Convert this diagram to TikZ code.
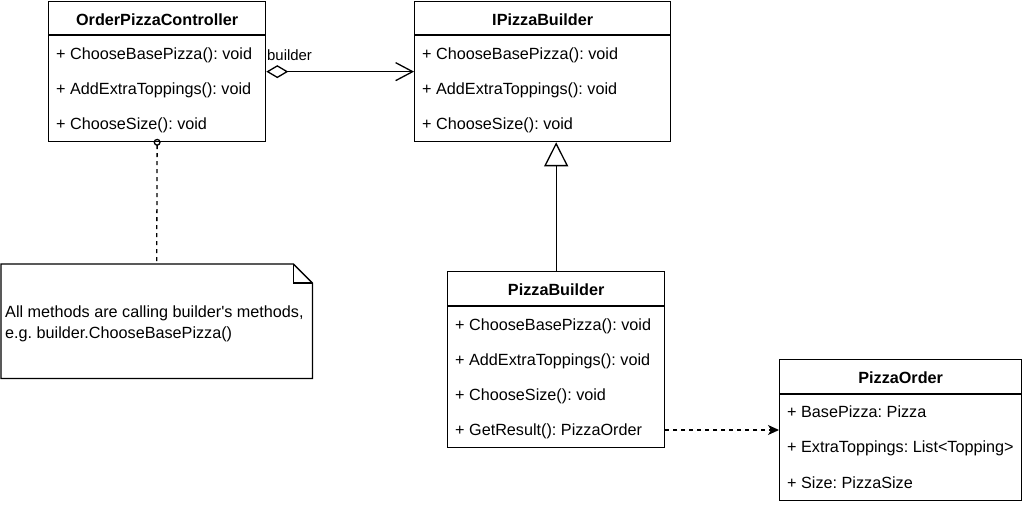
\documentclass[tikz,border=0pt]{standalone}
\usepackage{fontspec}
\setmainfont{Liberation Sans}[Ligatures=TeXOff]
\usetikzlibrary{arrows.meta}
\newcommand\umlfont{\fontsize{16.2pt}{20pt}\selectfont\frenchspacing}
\newcommand\lblfont{\fontsize{14.9pt}{18pt}\selectfont\frenchspacing}
\tikzset{
  classbox/.style={draw=black, line width=1.3pt, fill=white, rectangle, inner sep=0pt, anchor=north west},
  rowtext/.style={anchor=west, inner sep=0pt, font=\umlfont, text height=11.6pt, text depth=0pt},
  titletext/.style={anchor=center, inner sep=0pt, font=\umlfont\bfseries, text height=11.6pt, text depth=0pt},
  conn/.style={draw=black, line width=1.3pt},
  dashconn/.style={conn, dash pattern=on 4pt off 4pt},
}
\begin{document}
\begin{tikzpicture}[x=1pt, y=-1pt]
\useasboundingbox (0,0) rectangle (1024,505);

% OrderPizzaController
\node[classbox, minimum width=217pt, minimum height=140pt] (opc) at (48,1) {};
\draw[conn] ([yshift=-34pt]opc.north west) -- ([yshift=-34pt]opc.north east);
\node[titletext] (opct) at ([yshift=-18.5pt]opc.north) {OrderPizzaController};
\node[rowtext] (opc1) at (56,54) {+ ChooseBasePizza(): void};
\node[rowtext] (opc2) at (56,89) {+ AddExtraToppings(): void};
\node[rowtext] (opc3) at (56,124) {+ ChooseSize(): void};

% IPizzaBuilder
\node[classbox, minimum width=256pt, minimum height=140pt] (ipb) at (414,1) {};
\draw[conn] ([yshift=-34pt]ipb.north west) -- ([yshift=-34pt]ipb.north east);
\node[titletext] (ipbt) at ([yshift=-18.5pt]ipb.north) {IPizzaBuilder};
\node[rowtext] (ipb1) at (422,54) {+ ChooseBasePizza(): void};
\node[rowtext] (ipb2) at (422,89) {+ AddExtraToppings(): void};
\node[rowtext] (ipb3) at (422,124) {+ ChooseSize(): void};

% PizzaBuilder
\node[classbox, minimum width=217pt, minimum height=176pt] (pb) at (447,271) {};
\draw[conn] ([yshift=-35pt]pb.north west) -- ([yshift=-35pt]pb.north east);
\node[titletext] (pbt) at ([yshift=-18.5pt]pb.north) {PizzaBuilder};
\node[rowtext] (pb1) at (455,325) {+ ChooseBasePizza(): void};
\node[rowtext] (pb2) at (455,360) {+ AddExtraToppings(): void};
\node[rowtext] (pb3) at (455,395) {+ ChooseSize(): void};
\node[rowtext] (pb4) at (455,430) {+ GetResult(): PizzaOrder};

% PizzaOrder
\node[classbox, minimum width=242pt, minimum height=141pt] (po) at (779,359) {};
\draw[conn] ([yshift=-35pt]po.north west) -- ([yshift=-35pt]po.north east);
\node[titletext] (pot) at ([yshift=-18.5pt]po.north) {PizzaOrder};
\node[rowtext] (po1) at (787,412) {+ BasePizza: Pizza};
\node[rowtext] (po2) at (787,447) {+ ExtraToppings: List<Topping>};
\node[rowtext] (po3) at (787,483) {+ Size: PizzaSize};

% Note
\node[inner sep=0pt, minimum width=311pt, minimum height=114pt, anchor=north west] (note) at (1,264) {};
\draw[conn, fill=white] (note.north west) -- ([xshift=-19pt]note.north east)
  -- ([yshift=-19pt]note.north east) -- (note.south east) -- (note.south west) -- cycle;
\draw[conn] ([xshift=-19pt]note.north east) -- ([xshift=-19pt,yshift=-19pt]note.north east)
  -- ([yshift=-19pt]note.north east);
\node[rowtext] (note1) at (5,312) {All methods are calling builder's methods,};
\node[rowtext] (note2) at (5,333) {e.g. builder.ChooseBasePizza()};

% Connectors
\draw[conn, {Diamond[open,length=22pt,width=13pt]}-{Straight Barb[length=17pt,width=18pt]}] (opc.east) -- (ipb.west);
\node[anchor=west, inner sep=0pt, font=\lblfont, text height=10.7pt, text depth=0pt] (lbl) at (267,55) {builder};

\draw[conn, -{Triangle[open,length=24pt,width=24pt]}] (pb.north) -- (pb.north |- ipb.south);

\draw[dashconn, -{Stealth[length=11pt,width=10pt,inset=3pt]}] (pb.east |- pb4) -- (po.west |- pb4);

\draw[dashconn, {Circle[open,length=7pt,width=7pt]}-, shorten <=-3.5pt] (opc.south) -- (note.north);
\end{tikzpicture}
\end{document}
